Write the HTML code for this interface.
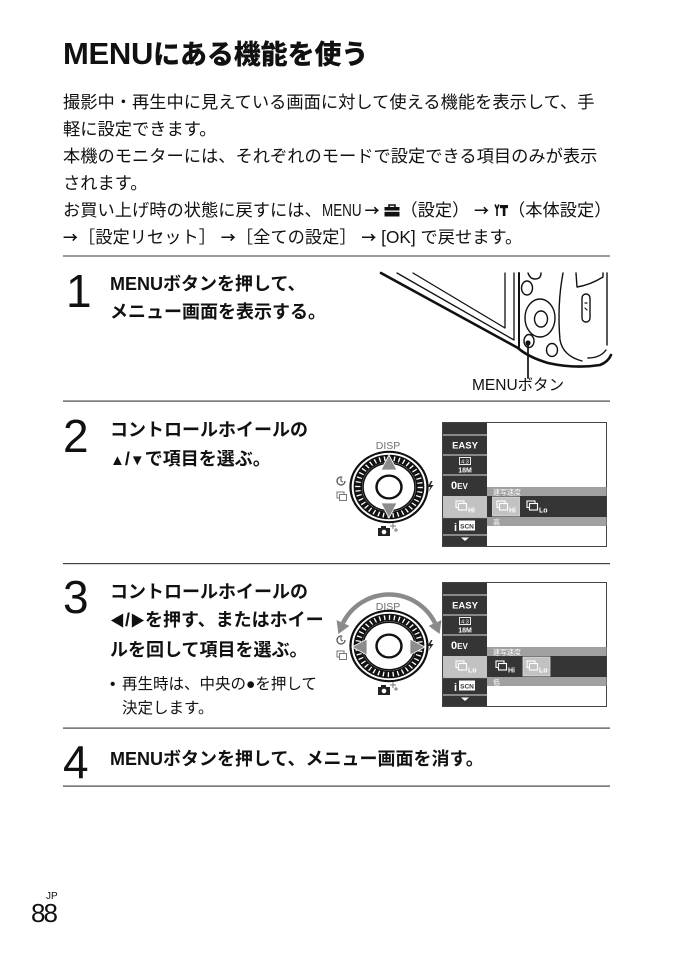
<!DOCTYPE html>
<html><head><meta charset="utf-8">
<style>
html,body{margin:0;padding:0;background:#fff;}
body{width:686px;height:972px;position:relative;overflow:hidden;font-family:"Liberation Sans","Noto Sans CJK JP",sans-serif;color:#111;}
.a{position:absolute;white-space:nowrap;}
.title{left:63px;top:39px;font-size:27px;line-height:30px;font-weight:900;letter-spacing:-0.1px;}
.title .m{font-size:31px;letter-spacing:-0.3px;}
.p{left:63px;top:89px;font-size:17.25px;line-height:27px;}
.st{left:110px;font-size:18px;font-weight:700;}
.num{font-size:46px;line-height:46px;font-weight:400;}
.sm{font-size:15px;}
.ar{font-family:"Noto Sans CJK JP",sans-serif;font-weight:700;font-size:15px;}
.mw{display:inline-block;width:38px;overflow:visible;}
.mw span{display:inline-block;transform:scaleX(.78);transform-origin:0 50%;}
svg.bg{position:absolute;left:0;top:0;}
.ic{vertical-align:-1px;}
</style></head><body>
<svg class="bg" width="686" height="972" viewBox="0 0 686 972" xmlns="http://www.w3.org/2000/svg">
<!-- separators -->
<rect x="63" y="255" width="547" height="2" fill="#9a9a9a"/>
<rect x="63" y="400.5" width="547" height="1.2" fill="#444"/>
<rect x="63" y="563" width="547" height="1.2" fill="#444"/>
<rect x="63" y="727.5" width="547" height="1.2" fill="#444"/>
<rect x="63" y="785.5" width="547" height="1.2" fill="#444"/>

<!-- camera illustration -->
<g fill="none" stroke="#111" stroke-linecap="round" stroke-linejoin="round">
<path d="M381,273 L518,348 Q528,357 548,363 Q575,369 600,365 Q608,362 611,355" stroke-width="2.6"/>
<path d="M397,273 L514,340 L514,273" stroke-width="1.3"/>
<path d="M413,273 L505,328 L505,273" stroke-width="1.3"/>
<path d="M519,273 L519,347" stroke-width="2"/>
<ellipse cx="527" cy="288" rx="5.5" ry="7" stroke-width="1.4"/>
<path d="M528,273 Q530,279 535,279 Q541,279 541,273" stroke-width="1.4"/>
<ellipse cx="540" cy="318" rx="15" ry="19" stroke-width="1.4"/>
<ellipse cx="541" cy="319" rx="6.5" ry="8" stroke-width="1.4"/>
<ellipse cx="529" cy="341" rx="5" ry="6.5" stroke-width="1.4"/>
<ellipse cx="552" cy="350" rx="5.5" ry="6.5" stroke-width="1.4"/>
<path d="M563,273 Q557,305 560,340 Q563,356 582,361" stroke-width="1.4"/>
<rect x="582" y="294" width="8" height="28" rx="4" stroke-width="1.4"/>
<path d="M585,303 L587,303 M585,308 L587,310" stroke-width="1.2"/>
<path d="M576,273 L577,287 Q590,285 603,277 L603,273" stroke-width="1.4"/>
<path d="M607,273 L607,345" stroke-width="1.4"/>
<path d="M588,358 Q600,358 606,350" stroke-width="1.4"/>
<line x1="528" y1="342" x2="528" y2="378" stroke-width="1.7"/>
</g>
<circle cx="528" cy="343" r="2.6" fill="#111"/>

<!-- DIAL 2 -->
<text x="388" y="449" font-family="Liberation Sans, sans-serif" font-size="10.5" fill="#707070" text-anchor="middle">DISP</text>
<g transform="translate(389,487) scale(1.04,0.95)">
 <circle r="37" fill="#fff" stroke="#111" stroke-width="2.2"/>
 <circle r="30" fill="none" stroke="#111" stroke-width="8"/>
 <circle r="30" fill="none" stroke="#fff" stroke-width="5" stroke-dasharray="1.3 3.4"/>
 <circle r="25" fill="none" stroke="#111" stroke-width="1.6"/>
 <circle r="12" fill="#fff" stroke="#111" stroke-width="2.4"/>
</g>
<polygon points="389,455 381,470 397,470" fill="#8c8c8c" stroke="#fff" stroke-width="0.8"/>
<polygon points="389,518 381,503 397,503" fill="#8c8c8c" stroke="#fff" stroke-width="0.8"/>
<g id="d2icons">
 <circle cx="341" cy="481" r="4" fill="none" stroke="#555" stroke-width="1.3" stroke-dasharray="20 5"/>
 <path d="M341,478 L341,481 L343,482" fill="none" stroke="#555" stroke-width="1"/>
 <rect x="337" y="492" width="7" height="6" fill="none" stroke="#777" stroke-width="1"/>
 <rect x="339.5" y="494.5" width="7" height="6" fill="#fff" stroke="#777" stroke-width="1"/>
 <polygon points="431,481 427.5,487 430.5,487 428.5,492 433.5,485 430.5,485 432.5,481" fill="#222"/>
 <rect x="378" y="528" width="12" height="8" fill="#222"/>
 <rect x="381" y="526" width="5" height="3" fill="#222"/>
 <circle cx="384" cy="532" r="2.3" fill="#fff"/>
 <path d="M393,523 L393,529 M390,526 L396,526 M396,528 L396,532 M394,530 L398,530" stroke="#777" stroke-width="1"/>
</g>

<!-- DIAL 3 -->
<path d="M343,623 A51.4,51.4 0 0 1 435,623" fill="none" stroke="#8a8a8a" stroke-width="4.5"/>
<polygon points="336.6,620.1 349.4,625.9 338.4,634" fill="#8a8a8a"/>
<polygon points="441.4,620.1 428.6,625.9 439.6,634" fill="#8a8a8a"/>
<text x="388" y="610" font-family="Liberation Sans, sans-serif" font-size="10.5" fill="#707070" text-anchor="middle">DISP</text>
<g transform="translate(389,646) scale(1.04,0.95)">
 <circle r="37" fill="#fff" stroke="#111" stroke-width="2.2"/>
 <circle r="30" fill="none" stroke="#111" stroke-width="8"/>
 <circle r="30" fill="none" stroke="#fff" stroke-width="5" stroke-dasharray="1.3 3.4"/>
 <circle r="25" fill="none" stroke="#111" stroke-width="1.6"/>
 <circle r="12" fill="#fff" stroke="#111" stroke-width="2.4"/>
</g>
<polygon points="352,647 367,639 367,655" fill="#8c8c8c" stroke="#fff" stroke-width="0.8"/>
<polygon points="425,647 410,639 410,655" fill="#8c8c8c" stroke="#fff" stroke-width="0.8"/>
<g transform="translate(0,159)">
 <circle cx="341" cy="481" r="4" fill="none" stroke="#555" stroke-width="1.3" stroke-dasharray="20 5"/>
 <path d="M341,478 L341,481 L343,482" fill="none" stroke="#555" stroke-width="1"/>
 <rect x="337" y="492" width="7" height="6" fill="none" stroke="#777" stroke-width="1"/>
 <rect x="339.5" y="494.5" width="7" height="6" fill="#fff" stroke="#777" stroke-width="1"/>
 <polygon points="431,481 427.5,487 430.5,487 428.5,492 433.5,485 430.5,485 432.5,481" fill="#222"/>
 <rect x="378" y="528" width="12" height="8" fill="#222"/>
 <rect x="381" y="526" width="5" height="3" fill="#222"/>
 <circle cx="384" cy="532" r="2.3" fill="#fff"/>
 <path d="M393,523 L393,529 M390,526 L396,526 M396,528 L396,532 M394,530 L398,530" stroke="#777" stroke-width="1"/>
</g>

<!-- SCREEN 2 -->
<g font-family="Liberation Sans, Noto Sans CJK JP, sans-serif">
<rect x="442.5" y="422.5" width="164" height="124" fill="#fff" stroke="#444"/>
<rect x="443" y="423" width="44" height="123" fill="#353535"/>
<g stroke="#bbb" stroke-width="1.2">
 <line x1="443" y1="435" x2="487" y2="435"/>
 <line x1="443" y1="455" x2="487" y2="455"/>
 <line x1="443" y1="475" x2="487" y2="475"/>
 <line x1="443" y1="517.5" x2="487" y2="517.5"/>
 <line x1="443" y1="535" x2="487" y2="535"/>
</g>
<rect x="443" y="496" width="44" height="21" fill="#c2c2c2"/>
<text x="465" y="448.5" font-size="9.5" font-weight="bold" fill="#fff" text-anchor="middle">EASY</text>
<rect x="459.5" y="457.5" width="11" height="7" fill="none" stroke="#fff" stroke-width="0.9"/>
<text x="465" y="463.5" font-size="5.5" fill="#fff" text-anchor="middle">4:3</text>
<text x="465" y="472.5" font-size="7" font-weight="bold" fill="#fff" text-anchor="middle">18M</text>
<text x="451" y="489" font-size="11" font-weight="bold" fill="#fff">0<tspan font-size="8">EV</tspan></text>
<rect x="456" y="501" width="8" height="6.5" fill="none" stroke="#fff" stroke-width="1.1"/>
<rect x="458.5" y="503.5" width="8" height="6.5" fill="#c2c2c2" stroke="#fff" stroke-width="1.1"/>
<text x="468" y="512.5" font-size="7" font-weight="bold" fill="#fff">Hi</text>
<text x="454" y="531" font-size="11" font-weight="bold" fill="#fff">i</text>
<rect x="459" y="520.5" width="16" height="10" fill="#fff"/>
<text x="467" y="528.3" font-size="6.5" font-weight="bold" fill="#353535" text-anchor="middle">SCN</text>
<polygon points="461,537.5 469,537.5 465,541" fill="#fff"/>
<rect x="487" y="487" width="119.5" height="9" fill="#a0a0a0"/>
<text x="493" y="494.5" font-size="7" fill="#fff">連写速度</text>
<rect x="487" y="496" width="119.5" height="21" fill="#353535"/>
<rect x="492.5" y="497" width="27" height="19" fill="#c2c2c2" stroke="#e0e0e0" stroke-width="0.8"/>
<rect x="497" y="501" width="8" height="6.5" fill="none" stroke="#fff" stroke-width="1.1"/>
<rect x="499.5" y="503.5" width="8" height="6.5" fill="#c2c2c2" stroke="#fff" stroke-width="1.1"/>
<text x="509" y="512.5" font-size="7" font-weight="bold" fill="#fff">Hi</text>
<rect x="527" y="501" width="8" height="6.5" fill="none" stroke="#fff" stroke-width="1.1"/>
<rect x="529.5" y="503.5" width="8" height="6.5" fill="#353535" stroke="#fff" stroke-width="1.1"/>
<text x="539" y="512.5" font-size="7" font-weight="bold" fill="#fff">Lo</text>
<rect x="487" y="517" width="119.5" height="9" fill="#a0a0a0"/>
<text x="493" y="524.5" font-size="7" fill="#fff">高</text>
</g>

<!-- SCREEN 3 -->
<g font-family="Liberation Sans, Noto Sans CJK JP, sans-serif" transform="translate(0,160)">
<rect x="442.5" y="422.5" width="164" height="124" fill="#fff" stroke="#444"/>
<rect x="443" y="423" width="44" height="123" fill="#353535"/>
<g stroke="#bbb" stroke-width="1.2">
 <line x1="443" y1="435" x2="487" y2="435"/>
 <line x1="443" y1="455" x2="487" y2="455"/>
 <line x1="443" y1="475" x2="487" y2="475"/>
 <line x1="443" y1="517.5" x2="487" y2="517.5"/>
 <line x1="443" y1="535" x2="487" y2="535"/>
</g>
<rect x="443" y="496" width="44" height="21" fill="#c2c2c2"/>
<text x="465" y="448.5" font-size="9.5" font-weight="bold" fill="#fff" text-anchor="middle">EASY</text>
<rect x="459.5" y="457.5" width="11" height="7" fill="none" stroke="#fff" stroke-width="0.9"/>
<text x="465" y="463.5" font-size="5.5" fill="#fff" text-anchor="middle">4:3</text>
<text x="465" y="472.5" font-size="7" font-weight="bold" fill="#fff" text-anchor="middle">18M</text>
<text x="451" y="489" font-size="11" font-weight="bold" fill="#fff">0<tspan font-size="8">EV</tspan></text>
<rect x="456" y="501" width="8" height="6.5" fill="none" stroke="#fff" stroke-width="1.1"/>
<rect x="458.5" y="503.5" width="8" height="6.5" fill="#c2c2c2" stroke="#fff" stroke-width="1.1"/>
<text x="468" y="512.5" font-size="7" font-weight="bold" fill="#fff">Lo</text>
<text x="454" y="531" font-size="11" font-weight="bold" fill="#fff">i</text>
<rect x="459" y="520.5" width="16" height="10" fill="#fff"/>
<text x="467" y="528.3" font-size="6.5" font-weight="bold" fill="#353535" text-anchor="middle">SCN</text>
<polygon points="461,537.5 469,537.5 465,541" fill="#fff"/>
<rect x="487" y="487" width="119.5" height="9" fill="#a0a0a0"/>
<text x="493" y="494.5" font-size="7" fill="#fff">連写速度</text>
<rect x="487" y="496" width="119.5" height="21" fill="#353535"/>
<rect x="523" y="497" width="27" height="19" fill="#c2c2c2" stroke="#e0e0e0" stroke-width="0.8"/>
<rect x="496" y="501" width="8" height="6.5" fill="none" stroke="#fff" stroke-width="1.1"/>
<rect x="498.5" y="503.5" width="8" height="6.5" fill="#353535" stroke="#fff" stroke-width="1.1"/>
<text x="508" y="512.5" font-size="7" font-weight="bold" fill="#fff">Hi</text>
<rect x="527" y="501" width="8" height="6.5" fill="none" stroke="#fff" stroke-width="1.1"/>
<rect x="529.5" y="503.5" width="8" height="6.5" fill="#c2c2c2" stroke="#fff" stroke-width="1.1"/>
<text x="539" y="512.5" font-size="7" font-weight="bold" fill="#fff">Lo</text>
<rect x="487" y="517" width="119.5" height="9" fill="#a0a0a0"/>
<text x="493" y="524.5" font-size="7" fill="#fff">低</text>
</g>
</svg>

<div class="a title"><span class="m">MENU</span>にある機能を使う</div>

<div class="a p">撮影中・再生中に見えている画面に対して使える機能を表示して、手<br>軽に設定できます。<br>本機のモニターには、それぞれのモードで設定できる項目のみが表示<br>されます。<br>お買い上げ時の状態に戻すには、<span class="mw"><span>MENU</span></span> <span class="ar">→</span> <svg class="ic" width="16" height="13" viewBox="0 0 16 13"><path d="M5,3.5 V1 H11 V3.5" fill="none" stroke="#111" stroke-width="1.6"/><rect x="0.5" y="3" width="15" height="9.5" fill="#111"/><rect x="0.5" y="6.5" width="15" height="1.3" fill="#fff"/></svg>（設定） <span class="ar">→</span> <svg class="ic" width="14" height="14" viewBox="0 0 14 14"><path d="M1,1.5 L3,6 L5,1.5 M3,6 L3,13" fill="none" stroke="#111" stroke-width="1.6"/><rect x="6" y="2" width="8" height="3.2" fill="#111"/><rect x="8.8" y="5" width="2.6" height="8" fill="#111"/></svg>（本体設定）<br><span class="ar">→</span>［設定リセット］ <span class="ar">→</span>［全ての設定］ <span class="ar">→</span> [OK] で戻せます。</div>

<div class="a num" style="left:66px;top:268px;">1</div>
<div class="a st" style="top:271px;line-height:27.5px;">MENUボタンを押して、<br>メニュー画面を表示する。</div>
<div class="a" style="left:472px;top:376px;font-size:15.5px;line-height:20px;">MENUボタン</div>

<div class="a num" style="left:63px;top:413px;">2</div>
<div class="a st" style="top:416px;line-height:28.5px;"><span>コントロールホイールの</span><br><span class="sm">▲</span>/<span class="sm">▼</span>で項目を選ぶ。</div>

<div class="a num" style="left:63px;top:574px;">3</div>
<div class="a st" style="top:577.5px;line-height:28px;">コントロールホイールの<br><span class="sm">◀</span>/<span class="sm">▶</span>を押す、またはホイー<br>ルを回して項目を選ぶ。</div>
<div class="a" style="left:110px;top:672.5px;font-size:15.5px;line-height:24px;">•</div>
<div class="a" style="left:122px;top:672.5px;font-size:15.5px;line-height:24px;">再生時は、中央の●を押して<br>決定します。</div>

<div class="a num" style="left:63px;top:739px;">4</div>
<div class="a st" style="top:744.5px;line-height:28px;">MENUボタンを押して、メニュー画面を消す。</div>

<div class="a" style="left:46px;top:891.5px;font-size:10px;line-height:10px;">JP</div>
<div class="a" style="left:31px;top:900px;font-size:26px;line-height:26px;letter-spacing:-2px;">88</div>
</body></html>
